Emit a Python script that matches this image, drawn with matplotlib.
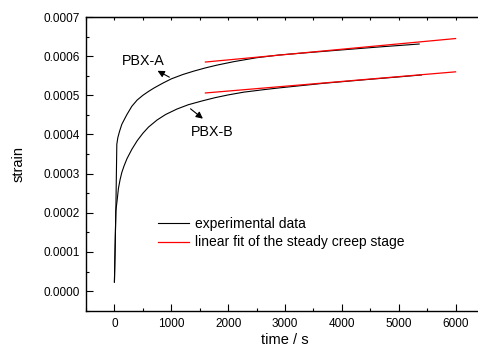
import matplotlib
matplotlib.use("Agg")
import matplotlib.pyplot as plt
from matplotlib.ticker import MultipleLocator, FormatStrFormatter

plt.rcParams['font.family'] = ['Liberation Sans', 'DejaVu Sans']

# experimental creep data (time in s, strain)
A_t = [0, 25, 42, 60, 90, 130, 180, 220, 306, 400, 500, 600, 700, 850, 1000, 1200, 1400, 1600,
       1800, 2100, 2500, 2900, 3400, 4000, 4700, 5360]
A_s = [0.000023, 0.000205, 0.000375, 0.000392, 0.000408, 0.000426, 0.000440, 0.000451, 0.000472,
       0.000488, 0.000500, 0.000510, 0.000519, 0.000531, 0.000542, 0.000553, 0.000562, 0.000570,
       0.000577, 0.000586, 0.000596, 0.000603, 0.000609, 0.000616, 0.000624, 0.000631]
B_t = [0, 25, 47, 70, 100, 130, 170, 220, 306, 400, 500, 600, 750, 900, 1100, 1300, 1550, 1770,
       2000, 2270, 2600, 2900, 3300, 3700, 4100, 4500, 5000, 5400]
B_s = [0.000023, 0.000205, 0.000231, 0.000262, 0.000285, 0.000303, 0.000320, 0.000338, 0.000362,
       0.000384, 0.000403, 0.000419, 0.000437, 0.000451, 0.000465, 0.000476, 0.000486, 0.000494,
       0.000501, 0.000508, 0.000514, 0.000519, 0.000525, 0.000531, 0.000536, 0.000541, 0.000547,
       0.000552]

# linear fits of the steady creep stage
fit_t = [1600, 6000]
fitA = [0.000585, 0.000645]
fitB = [0.000506, 0.000560]

W, H = 478, 349
fig = plt.figure(figsize=(W / 100, H / 100), dpi=100)
ax = fig.add_axes([86 / W, 1 - 310.7 / H, 398 / W, 293.7 / H])

l1, = ax.plot(A_t, A_s, color='black', lw=0.8, label='experimental data')
ax.plot(B_t, B_s, color='black', lw=0.8)
l2, = ax.plot(fit_t, fitA, color='red', lw=0.9, label='linear fit of the steady creep stage')
ax.plot(fit_t, fitB, color='red', lw=0.9)

ax.set_xlim(-500, 6500)
ax.set_ylim(-0.00005, 0.0007)
ax.xaxis.set_major_locator(MultipleLocator(1000))
ax.xaxis.set_minor_locator(MultipleLocator(500))
ax.yaxis.set_major_locator(MultipleLocator(0.0001))
ax.yaxis.set_minor_locator(MultipleLocator(0.00005))
ax.yaxis.set_major_formatter(FormatStrFormatter('%.4f'))
ax.tick_params(which='major', direction='in', length=5, width=0.8, labelsize=8.5, pad=5)
ax.tick_params(which='minor', direction='in', length=2.5, width=0.8)
ax.tick_params(axis='y', which='major', pad=4.5)
ax.spines['right'].set_visible(False)
for s in ['left', 'bottom', 'top']:
    ax.spines[s].set_linewidth(1.0)

top = ax.secondary_xaxis('top')
top.xaxis.set_major_locator(MultipleLocator(500))
top.tick_params(direction='in', length=2.5, width=0.8, labeltop=False)

ax.set_xlabel('time / s', fontsize=10.5)
ax.set_ylabel('strain', fontsize=10.5)
ax.xaxis.set_label_coords(0.5, -0.075)
ax.yaxis.set_label_coords(-0.152, 0.5)

ax.annotate('', xy=(715, 0.000566), xytext=(1009, 0.000543),
            arrowprops=dict(arrowstyle='-|>', color='black', lw=0.8, mutation_scale=10))
ax.text(504, 0.000587, 'PBX-A', fontsize=10.3, ha='center', va='center')
ax.annotate('', xy=(1594, 0.000436), xytext=(1300, 0.000470),
            arrowprops=dict(arrowstyle='-|>', color='black', lw=0.8, mutation_scale=10))
ax.text(1726, 0.000406, 'PBX-B', fontsize=10.3, ha='center', va='center')

ax.legend(handles=[l1, l2], loc='upper left', bbox_to_anchor=(158 / W, 1 - 217 / H),
          bbox_transform=fig.transFigure, frameon=False, fontsize=10, handlelength=2.2,
          handletextpad=0.45, labelspacing=0.32, borderpad=0, borderaxespad=0)

fig.savefig('out.png', dpi=100)
